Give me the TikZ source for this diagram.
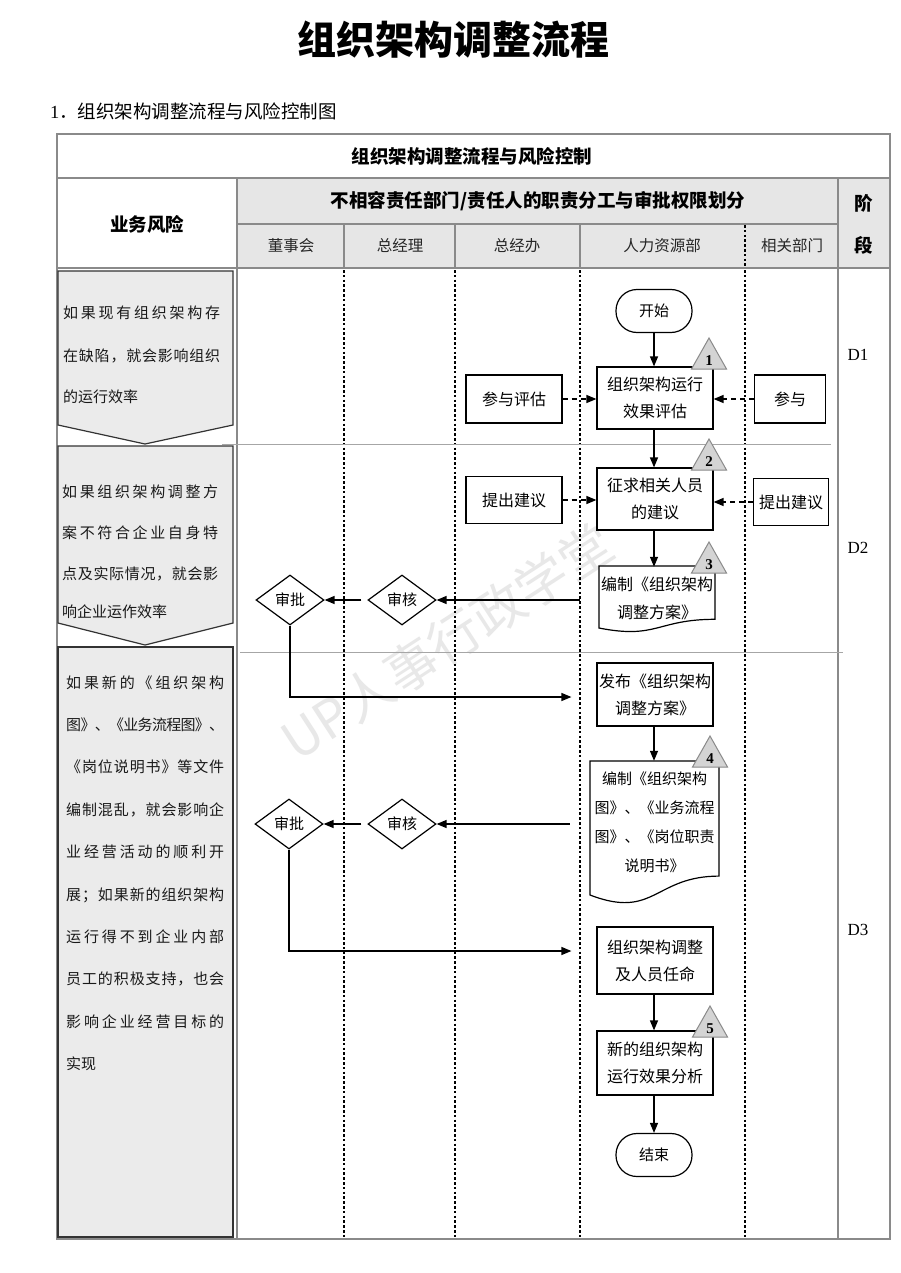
\documentclass[tikz,border=0pt]{standalone}
\usepackage{fontspec}
\setmainfont{Noto Sans CJK SC}
\newfontfamily\serif{Liberation Serif}
\usetikzlibrary{shapes.geometric,arrows.meta}
\newcommand\spl[2]{\makebox[#1][s]{\splaux#2\splend}}
\def\splaux#1#2\splend{#1\ifx\relax#2\relax\else\hskip 0pt plus 1fill minus 3pt\relax\splaux#2\splend\fi}
\definecolor{hdrgray}{HTML}{E6E6E6}
\definecolor{riskgray}{HTML}{EBEBEB}
\definecolor{trigray}{HTML}{D4D4D4}
\definecolor{gridgray}{HTML}{8A8A8A}
\tikzset{
  grid/.style={draw=gridgray, line width=1.3pt},
  phase/.style={draw=black!35, line width=0.9pt},
  lane/.style={line width=2.8pt, dash pattern=on 2.6pt off 2.2pt},
  riskshape/.style={draw=black!80, fill=riskgray, line width=1.2pt},
  risk/.style={anchor=west, inner sep=0pt, font=\fontsize{15}{18}\selectfont, text=black!90},
  hdr/.style={inner sep=0pt, font=\bfseries\fontsize{18.5}{22}\selectfont},
  lanehdr/.style={inner sep=0pt, font=\fontsize{15.5}{18}\selectfont, text=black!85},
  box/.style={draw, line width=1.2pt, fill=white, minimum width=116pt, minimum height=62pt, align=center, inner sep=0pt, font=\fontsize{16}{27}\selectfont},
  sbox/.style={draw, line width=1.2pt, fill=white, minimum height=48pt, align=center, inner sep=0pt, font=\fontsize{16}{20}\selectfont},
  doctext/.style={align=center, inner sep=0pt, minimum width=116pt, minimum height=62pt, font=\fontsize{16}{28}\selectfont},
  term/.style={draw, line width=1.2pt, fill=white, rounded corners=21pt, minimum width=76pt, minimum height=43pt, inner sep=0pt, font=\fontsize{15}{18}\selectfont},
  dia/.style={draw, line width=1.2pt, fill=white, shape=diamond, aspect=1.36, minimum width=68pt, minimum height=50pt, inner sep=0pt, font=\fontsize{15}{18}\selectfont},
  docline/.style={draw, line width=1.2pt, fill=white},
  tristyle/.style={draw=gridgray, fill=trigray, line width=1pt},
  trinum/.style={inner sep=0pt, font=\serif\bfseries\fontsize{15}{16}\selectfont},
  arr/.style={line width=1.3pt, -{Triangle[length=10pt,width=8pt]}},
  darr/.style={line width=1.3pt, dash pattern=on 5pt off 4pt, -{Triangle[length=10pt,width=8pt]}},
  phaselbl/.style={inner sep=0pt, font=\serif\fontsize{17}{18}\selectfont}
}
\newcommand\mytri[3]{%
  \draw[tristyle] (#2-17.5,#3) -- (#2,#3-31) -- (#2+17.5,#3) -- cycle;
  \node[trinum] (tn#1) at (#2,#3-8) {#1};}
\begin{document}
\begin{tikzpicture}[x=1pt,y=-1pt]
\useasboundingbox[fill=white] (0,0) rectangle (901,1273);

% titles
\node[inner sep=0pt, font=\bfseries\fontsize{39}{42}\selectfont] (title) at (453,40) {组织架构调整流程};
\node[anchor=west, inner sep=0pt, font=\fontsize{18.5}{22}\selectfont] (subtitle) at (50,111) {{\serif 1}．组织架构调整流程与风险控制图};

% watermark
\node[rotate=33, text=black!9, inner sep=0pt, font=\fontsize{52}{56}\selectfont] (wm) at (447,642) {UP人事行政学堂};

% header fills
\fill[hdrgray] (237,178) rectangle (838,268);
\fill[hdrgray] (838,178) rectangle (890,268);

% grid
\draw[grid] (57,134) rectangle (890,1239);
\draw[grid] (57,178) -- (890,178);
\draw[grid] (57,268) -- (890,268);
\draw[grid] (237,178) -- (237,1239);
\draw[grid] (838,178) -- (838,1239);
\draw[grid] (237,224) -- (838,224);
\draw[grid] (344,224) -- (344,268);
\draw[grid] (455,224) -- (455,268);
\draw[grid] (580,224) -- (580,268);
\draw[lane] (745,225) -- (745,267);

% lane lines in body
\draw[lane] (344,270) -- (344,1238);
\draw[lane] (455,270) -- (455,1238);
\draw[lane] (580,270) -- (580,1238);
\draw[lane] (745,270) -- (745,1238);

% phase separators
\draw[phase] (222,444) -- (831,444);
\draw[phase] (240,652) -- (843,652);

% header texts
\node[hdr] (rowtitle) at (472,156) {组织架构调整流程与风险控制};
\node[hdr] (risk) at (147,224) {业务风险};
\node[hdr] (resp) at (538,201) {不相容责任部门/责任人的职责分工与审批权限划分};
\node[hdr] (stA) at (864,203) {阶};
\node[hdr] (stB) at (864,245) {段};
\node[lanehdr] (l1) at (291,246) {董事会};
\node[lanehdr] (l2) at (400,246) {总经理};
\node[lanehdr] (l3) at (517,246) {总经办};
\node[lanehdr] (l4) at (662,246) {人力资源部};
\node[lanehdr] (l5) at (792,246) {相关部门};

% phase labels
\node[phaselbl] (d1) at (858,355) {D1};
\node[phaselbl] (d2) at (858,548) {D2};
\node[phaselbl] (d3) at (858,930) {D3};

% risk boxes
\draw[riskshape] (58,271) -- (233,271) -- (233,425) -- (145,444) -- (58,425) -- cycle;
\draw[riskshape] (58,446) -- (233,446) -- (233,623) -- (145,645) -- (58,623) -- cycle;
\draw[riskshape] (58,647) rectangle (233,1237);

\node[risk] (r1a) at (63,313) {\spl{157pt}{如果现有组织架构存}};
\node[risk] (r1b) at (63,356) {\spl{157pt}{在缺陷，就会影响组织}};
\node[risk] (r1c) at (63,397) {的运行效率};

\node[risk] (r2a) at (62,492) {\spl{156pt}{如果组织架构调整方}};
\node[risk] (r2b) at (62,533) {\spl{156pt}{案不符合企业自身特}};
\node[risk] (r2c) at (62,574) {\spl{156pt}{点及实际情况，就会影}};
\node[risk] (r2d) at (62,612) {响企业运作效率};

\node[risk] (r3a) at (66,683) {\spl{158pt}{如果新的《组织架构}};
\node[risk] (r3b) at (66,725) {\spl{158pt}{图》、《业务流程图》、}};
\node[risk] (r3c) at (66,767) {\spl{158pt}{《岗位说明书》等文件}};
\node[risk] (r3d) at (66,810) {\spl{158pt}{编制混乱，就会影响企}};
\node[risk] (r3e) at (66,852) {\spl{158pt}{业经营活动的顺利开}};
\node[risk] (r3f) at (66,895) {\spl{158pt}{展；如果新的组织架构}};
\node[risk] (r3g) at (66,937) {\spl{158pt}{运行得不到企业内部}};
\node[risk] (r3h) at (66,979) {\spl{158pt}{员工的积极支持，也会}};
\node[risk] (r3i) at (66,1022) {\spl{158pt}{影响企业经营目标的}};
\node[risk] (r3j) at (66,1064) {实现};

% flow nodes
\node[term] (start) at (654,311) {开始};
\node[box] (b1) at (655,398) {组织架构运行\\效果评估};
\node[sbox, minimum width=96pt] (pg) at (514,399) {参与评估};
\node[sbox, minimum width=71pt] (cy) at (790,399) {参与};
\node[box] (b2) at (655,499) {征求相关人员\\的建议};
\node[sbox, minimum width=96pt, minimum height=47pt] (jyL) at (514,500) {提出建议};
\node[sbox, minimum width=75pt, minimum height=47pt] (jyR) at (791,502) {提出建议};

% document 3
\draw[docline] (599,566) -- (715,566) -- (715,619.3) .. controls (657,619.3) and (657,639.5) .. (599,628) -- cycle;
\node[doctext] (doc3) at (657,598) {编制《组织架构\\调整方案》};

\node[dia] (sh1) at (402,600) {审核};
\node[dia] (sp1) at (290,600) {审批};

\node[box, minimum height=63pt] (pub) at (655,694.5) {发布《组织架构\\调整方案》};

% document 4
\draw[docline] (590,761) -- (719,761) -- (719,876.1) .. controls (654.5,876.1) and (654.5,919.8) .. (590,895) -- cycle;
\node[doctext, minimum width=129pt, minimum height=122pt, font=\fontsize{15}{29}\selectfont] (doc4) at (654.5,822) {编制《组织架构\\图》、《业务流程\\图》、《岗位职责\\说明书》};

\node[dia] (sh2) at (402,824) {审核};
\node[dia] (sp2) at (289,824) {审批};

\node[box, minimum height=67pt] (adj) at (655,960.5) {组织架构调整\\及人员任命};
\node[box, minimum height=64pt] (ana) at (655,1063) {新的组织架构\\运行效果分析};
\node[term] (end) at (654,1155) {结束};

% triangles
\mytri{1}{709}{369}
\mytri{2}{709}{470}
\mytri{3}{709}{573}
\mytri{4}{710}{767}
\mytri{5}{710}{1037}

% connectors
\draw[arr] (start.south) -- (start.south |- b1.north);
\draw[arr] (b1.south -| start) -- (start |- b2.north);
\draw[arr] (b2.south -| start) -- (start |- doc3.north);
\draw[darr] (pg.east) -- (b1.west |- pg.east);
\draw[darr] (cy.west) -- (b1.east |- cy.west);
\draw[darr] (jyL.east) -- (b2.west |- jyL.east);
\draw[darr] (jyR.west) -- (b2.east |- jyR.west);
\draw[arr] ([xshift=-19pt]doc3.west |- sh1.east) -- (sh1.east);
\draw[arr, shorten <=6pt] (sh1.west) -- (sp1.east);
\draw[arr] (sp1.south) |- ([xshift=-25pt,yshift=-2.5pt]pub.west);
\draw[arr] (pub.south -| start) -- (start |- doc4.north);
\draw[arr] ([xshift=-20pt]doc4.west |- sh2.east) -- (sh2.east);
\draw[arr, shorten <=6pt] (sh2.west) -- (sp2.east);
\draw[arr] (sp2.south) |- ([xshift=-25pt,yshift=9.5pt]adj.west);
\draw[arr] (adj.south -| start) -- (start |- ana.north);
\draw[arr] (ana.south -| start) -- (end.north);
\end{tikzpicture}
\end{document}
